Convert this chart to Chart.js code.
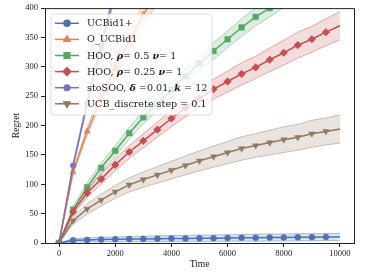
<!DOCTYPE html>
<html>
<head>
<meta charset="utf-8">
<script src="https://cdn.jsdelivr.net/npm/chart.js@4"></script>
<style>
  html, body { margin: 0; padding: 0; background: #fff; }
  #wrap { width: 365px; height: 274px; }
</style>
</head>
<body>
<div id="wrap"><canvas id="regretChart" width="365" height="274"></canvas></div>
<script>
// ---- data ----
const steps = [0, 500, 1000, 1500, 2000, 2500, 3000, 3500, 4000, 4500, 5000,
               5500, 6000, 6500, 7000, 7500, 8000, 8500, 9000, 9500, 10000];
const xTicks = [0, 2000, 4000, 6000, 8000, 10000];
const yTicks = [0, 50, 100, 150, 200, 250, 300, 350, 400];

const ucbid1Plus   = [0, 4.5, 5.2, 5.8, 6.3, 6.7, 7, 7.3, 7.6, 7.8, 8, 8.3, 8.5, 8.8, 9, 9.3, 9.5, 9.7, 9.9, 10.2, 10.4];
const ucbid1PlusSd = [0, 3, 3.5, 4, 4, 4.5, 4.5, 5, 5, 5, 5.5, 5.5, 5.5, 5.5, 6, 6, 6, 6, 6, 6, 6];

const oUcbid1   = [0, 121, 190, 247, 297, 343, 389, 429];
const oUcbid1Sd = [0, 4, 7, 10, 13, 16, 19, 21];

const hooHalf   = [0, 57, 95, 128, 157, 187, 214, 237, 261, 284, 306, 327, 347, 367, 385, 400, 417];
const hooHalfSd = [0, 5, 7, 8, 9, 10, 11, 12, 12, 13, 13, 14, 14, 15, 15, 15, 16];

const hooQuarter   = [0, 53, 85, 109, 133, 155, 174, 193, 212, 230, 246, 262, 275, 288, 299, 312, 324, 337, 347, 359, 370];
const hooQuarterSd = [0, 5, 7, 9, 10, 11, 12, 13, 14, 15, 16, 17, 18, 19, 19, 20, 21, 22, 22, 23, 24];

const stoSoo   = [0, 132, 238, 336, 429];
const stoSooSd = [0, 4, 6, 8, 10];

const ucbDiscrete   = [0, 38, 58, 73, 87, 99, 108, 116, 124, 132, 140, 147, 154, 161, 166, 171, 176, 180, 186, 190, 194];
const ucbDiscreteSd = [0, 6, 9, 10, 11, 12, 13, 14, 15, 16, 17, 18, 19, 20, 20, 21, 22, 22, 23, 23, 24];

// ---- series setup ----
const series = [
  { values: ucbid1Plus,  sd: ucbid1PlusSd,  color: [76, 114, 176],  marker: 'circle',   radius: 3,   rot: 0,
    label: [{ t: 'UCBid1+' }] },
  { values: oUcbid1,     sd: oUcbid1Sd,     color: [221, 132, 82],  marker: 'triangle', radius: 3.6, rot: 0,
    label: [{ t: 'O_UCBid1' }] },
  { values: hooHalf,     sd: hooHalfSd,     color: [85, 168, 104],  marker: 'rect',     radius: 4,   rot: 0,
    label: [{ t: 'HOO, ' }, { t: 'ρ', b: true }, { t: '= 0.5 ' }, { t: 'ν', b: true }, { t: '= 1' }] },
  { values: hooQuarter,  sd: hooQuarterSd,  color: [196, 78, 82],   marker: 'rectRot',  radius: 3.8, rot: 0,
    label: [{ t: 'HOO, ' }, { t: 'ρ', b: true }, { t: '= 0.25 ' }, { t: 'ν', b: true }, { t: '= 1' }] },
  { values: stoSoo,      sd: stoSooSd,      color: [129, 114, 179], marker: 'circle',   radius: 2.8, rot: 0,
    label: [{ t: 'stoSOO, ' }, { t: 'δ', b: true }, { t: ' =0.01, ' }, { t: 'k', b: true }, { t: ' = 12' }] },
  { values: ucbDiscrete, sd: ucbDiscreteSd, color: [147, 120, 96],  marker: 'triangle', radius: 3.6, rot: 180,
    label: [{ t: 'UCB_discrete step = 0.1' }] }
];

const rgba = (c, a) => `rgba(${c[0]},${c[1]},${c[2]},${a})`;
const SERIF = '"Liberation Serif", "DejaVu Serif", serif';
const LEG_FONT = '"DejaVu Serif", serif';

const datasets = [];
series.forEach((s, k) => {
  const lower = s.values.map((v, i) => ({ x: steps[i], y: v - s.sd[i] }));
  const upper = s.values.map((v, i) => ({ x: steps[i], y: v + s.sd[i] }));
  const mean  = s.values.map((v, i) => ({ x: steps[i], y: v }));
  const ord = 100 - k * 3;
  datasets.push({ data: lower, borderColor: rgba(s.color, 0.55), borderWidth: 0.8,
                  pointRadius: 0, fill: false, order: ord });
  datasets.push({ data: upper, borderColor: rgba(s.color, 0.55), borderWidth: 0.8,
                  pointRadius: 0, fill: '-1', backgroundColor: rgba(s.color, 0.2), order: ord - 1 });
  datasets.push({ data: mean, borderColor: rgba(s.color, 1), borderWidth: 1.5,
                  pointStyle: s.marker, pointRotation: s.rot,
                  pointRadius: ctx => (steps[ctx.dataIndex] >= 10000 ? 0 : s.radius),
                  pointBackgroundColor: rgba(s.color, 1), pointBorderColor: rgba(s.color, 1),
                  pointBorderWidth: 0.5, fill: false, order: ord - 2 });
});

// frame on top/right + legend box
const framePlugin = {
  id: 'frameAndLegend',
  afterDraw(chart) {
    const ctx = chart.ctx;
    const a = chart.chartArea;
    ctx.save();
    ctx.strokeStyle = '#222';
    ctx.lineWidth = 1;
    ctx.beginPath();
    ctx.moveTo(a.left + 0.5, a.top + 0.5);
    ctx.lineTo(a.right + 0.5, a.top + 0.5);
    ctx.lineTo(a.right + 0.5, a.bottom + 0.5);
    ctx.stroke();

    // legend
    const bx = 51, by = 14, bw = 161, bh = 101, r = 3;
    ctx.beginPath();
    ctx.moveTo(bx + r, by);
    ctx.arcTo(bx + bw, by, bx + bw, by + bh, r);
    ctx.arcTo(bx + bw, by + bh, bx, by + bh, r);
    ctx.arcTo(bx, by + bh, bx, by, r);
    ctx.arcTo(bx, by, bx + bw, by, r);
    ctx.closePath();
    ctx.fillStyle = 'rgba(255,255,255,0.8)';
    ctx.fill();
    ctx.strokeStyle = 'rgba(204,204,204,0.8)';
    ctx.lineWidth = 0.8;
    ctx.stroke();

    const rowY = [23.3, 39.4, 55.5, 71.6, 87.7, 103.8];
    series.forEach((s, k) => {
      const y = rowY[k];
      ctx.strokeStyle = rgba(s.color, 1);
      ctx.fillStyle = rgba(s.color, 1);
      ctx.lineWidth = 1.5;
      ctx.beginPath();
      ctx.moveTo(55, y);
      ctx.lineTo(79, y);
      ctx.stroke();
      Chart.helpers.drawPoint(ctx, { pointStyle: s.marker, rotation: s.rot, radius: s.radius, borderWidth: 0.5 }, 67, y);

      let x = 87;
      ctx.fillStyle = '#1a1a1a';
      ctx.textBaseline = 'middle';
      ctx.textAlign = 'left';
      s.label.forEach(seg => {
        ctx.font = (seg.b ? 'italic bold ' : '') + '9.6px ' + LEG_FONT;
        ctx.fillText(seg.t, x, y + 0.5);
        x += ctx.measureText(seg.t).width;
      });
    });
    ctx.restore();
  }
};

new Chart(document.getElementById('regretChart'), {
  type: 'line',
  data: { datasets },
  plugins: [framePlugin],
  options: {
    responsive: false,
    animation: false,
    layout: { padding: { top: 7, right: 11, left: 0, bottom: 0 } },
    plugins: { legend: { display: false }, tooltip: { enabled: false } },
    scales: {
      x: {
        type: 'linear',
        min: -500,
        max: 10500,
        afterBuildTicks: sc => { sc.ticks = xTicks.map(v => ({ value: v })); },
        afterFit: sc => { sc.height = 31; },
        grid: { drawOnChartArea: false, drawTicks: true, tickLength: 4, color: '#222' },
        border: { display: true, color: '#222', width: 1 },
        ticks: { color: '#1a1a1a', font: { family: SERIF, size: 8.5 }, padding: 2, maxRotation: 0,
                 callback: v => String(v) },
        title: { display: true, text: 'Time', color: '#1a1a1a', font: { family: SERIF, size: 9.5 }, padding: { top: 3.3 } }
      },
      y: {
        type: 'linear',
        min: 0,
        max: 400,
        afterBuildTicks: sc => { sc.ticks = yTicks.map(v => ({ value: v })); },
        afterFit: sc => { sc.width = 45; },
        grid: { drawOnChartArea: false, drawTicks: true, tickLength: 4, color: '#222' },
        border: { display: true, color: '#222', width: 1 },
        ticks: { color: '#1a1a1a', font: { family: SERIF, size: 8.5 }, padding: 3, callback: v => String(v) },
        title: { display: true, text: 'Regret', color: '#1a1a1a', font: { family: SERIF, size: 9.5 }, padding: { top: 10.3 } }
      }
    }
  }
});
</script>
</body>
</html>
